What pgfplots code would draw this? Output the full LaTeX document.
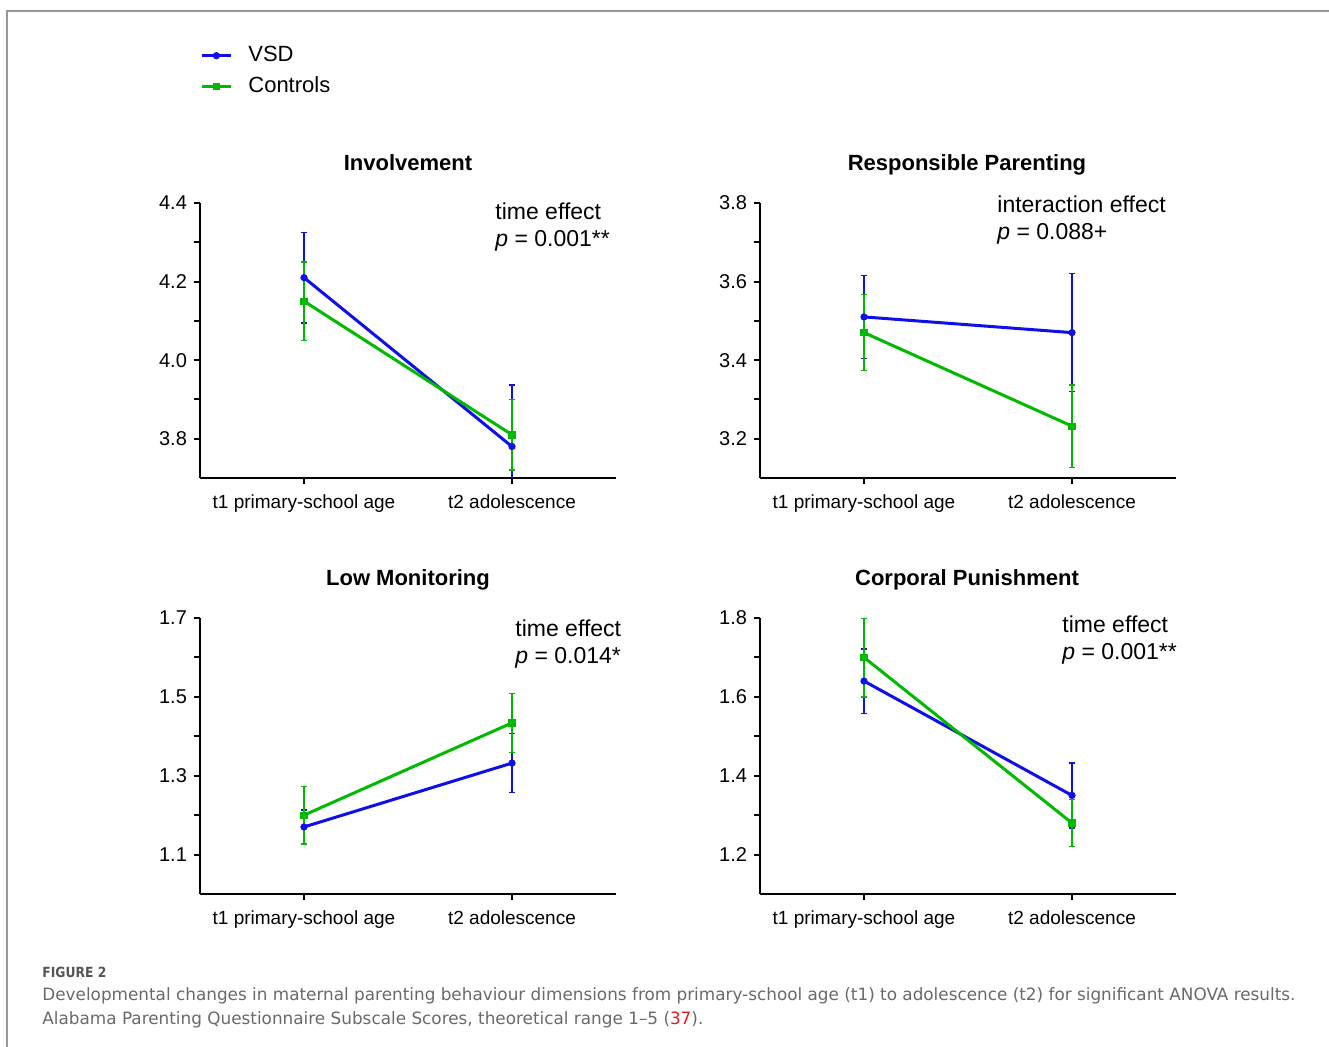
\documentclass[border=0pt]{standalone}
\usepackage{fontspec}
\setmainfont{Liberation Sans}
\newfontfamily\capfont{DejaVu Sans}
\usepackage{graphicx}
\usepackage{pgfplots}
\pgfplotsset{compat=1.18}

\definecolor{vsd}{RGB}{15,15,235}
\definecolor{ctl}{RGB}{0,185,0}
\definecolor{capgray}{RGB}{105,105,105}
\definecolor{figgray}{RGB}{85,85,85}
\definecolor{framegray}{RGB}{150,150,150}
\definecolor{refred}{RGB}{220,30,30}

\pgfplotsset{
  panel/.style={
    scale only axis, width=208pt, height=137.5pt,
    anchor=south west,
    xmin=-0.5, xmax=1.5,
    axis x line=bottom, axis y line=left,
    axis line style={-, line width=1.4pt},
    xtick={0,1}, xticklabels={t1 primary-school age, t2 adolescence},
    tick align=outside,
    major tick length=3pt, minor tick length=3pt,
    every tick/.style={line width=1pt, black},
    /pgf/number format/assume math mode=true,
    yticklabel style={font=\fontsize{10}{12}\selectfont,
      /pgf/number format/fixed, /pgf/number format/fixed zerofill,
      /pgf/number format/precision=1},
    xticklabel style={font=\fontsize{9.5}{11}\selectfont, yshift=-2pt},
  },
  vsdplot/.style={color=vsd, line width=1.5pt, mark=*, mark size=1.6pt,
    mark options={solid, line width=0.4pt},
    error bars/.cd, y dir=both, y explicit,
    error bar style={line width=0.75pt},
    error mark options={rotate=90, mark size=1.3pt, line width=0.75pt}},
  ctlplot/.style={color=ctl, line width=1.5pt, mark=square*, mark size=1.6pt,
    mark options={solid, line width=0.4pt},
    error bars/.cd, y dir=both, y explicit,
    error bar style={line width=0.75pt},
    error mark options={rotate=90, mark size=1.3pt, line width=0.75pt}},
}

\begin{document}
\begin{tikzpicture}[x=0.5pt, y=0.5pt]
\path[use as bounding box] (0,0) rectangle (1329,1047);
\draw[framegray, line width=0.6pt] (7,0) -- (7,1036) -- (1329,1036);

% Involvement
\begin{axis}[panel, at={(100pt,284.5pt)},
    ymin=3.7, ymax=4.4,
    ytick={3.8,4.0,4.2,4.4}, minor ytick={3.9,4.1,4.3},
    legend style={at={(0,1.585)}, anchor=north west, draw=none, fill=none,
      font=\fontsize{11}{13}\selectfont, row sep=2pt, column sep=6pt,
      inner sep=0pt},
    legend cell align=left,
    legend image code/.code={\draw[mark repeat=2, mark phase=2]
      plot coordinates {(0pt,0pt) (7.25pt,0pt) (14.5pt,0pt)};},
  ]
  \addplot[vsdplot] coordinates {(0,4.21) +- (0,0.115) (1,3.78) +- (0,0.157)};
  \addplot[ctlplot] coordinates {(0,4.15) +- (0,0.10) (1,3.81) +- (0,0.09)};
  \legend{VSD, Controls}
\end{axis}

% Responsible Parenting
\begin{axis}[panel, at={(380pt,284.5pt)},
    ymin=3.1, ymax=3.8,
    ytick={3.2,3.4,3.6,3.8}, minor ytick={3.3,3.5,3.7},
  ]
  \addplot[vsdplot] coordinates {(0,3.51) +- (0,0.106) (1,3.47) +- (0,0.15)};
  \addplot[ctlplot] coordinates {(0,3.47) +- (0,0.097) (1,3.232) +- (0,0.105)};
\end{axis}

% Low Monitoring
\begin{axis}[panel, at={(100pt,76.5pt)}, height=138pt,
    ymin=1.0, ymax=1.7,
    ytick={1.1,1.3,1.5,1.7}, minor ytick={1.2,1.4,1.6},
  ]
  \addplot[vsdplot] coordinates {(0,1.17) +- (0,0.043) (1,1.332) +- (0,0.075)};
  \addplot[ctlplot] coordinates {(0,1.20) +- (0,0.073) (1,1.434) +- (0,0.075)};
\end{axis}

% Corporal Punishment
\begin{axis}[panel, at={(380pt,76.5pt)}, height=138pt,
    ymin=1.1, ymax=1.8,
    ytick={1.2,1.4,1.6,1.8}, minor ytick={1.3,1.5,1.7},
  ]
  \addplot[vsdplot] coordinates {(0,1.64) +- (0,0.082) (1,1.35) +- (0,0.082)};
  \addplot[ctlplot] coordinates {(0,1.70) +- (0,0.10) (1,1.28) +- (0,0.06)};
\end{axis}

% panel titles
\begin{scope}[every node/.style={anchor=base, inner sep=0pt,
    font=\bfseries\fontsize{11}{13}\selectfont}]
  \node at (408,876) {Involvement};
  \node at (967,876) {Responsible Parenting};
  \node at (408,461) {Low Monitoring};
  \node at (967,461) {Corporal Punishment};
\end{scope}

% effect notes
\begin{scope}[every node/.style={anchor=base west, inner sep=0pt,
    font=\fontsize{11.5}{13}\selectfont}]
  \node at (495,827) {time effect};
  \node at (495,800) {\textit{p} = 0.001**};
  \node at (997,834) {interaction effect};
  \node at (997,807) {\textit{p} = 0.088+};
  \node at (515,410) {time effect};
  \node at (515,383) {\textit{p} = 0.014*};
  \node at (1062,414) {time effect};
  \node at (1062,387) {\textit{p} = 0.001**};
\end{scope}

% caption
\begin{scope}[every node/.style={anchor=base west, inner sep=0pt}]
  \node[text=figgray] at (42,69)
    {\resizebox{32pt}{\height}{\capfont\bfseries\fontsize{7}{8}\selectfont FIGURE 2}};
  \node[text=capgray] at (42,46)
    {\resizebox{626.5pt}{\height}{\capfont\fontsize{8.5}{10}\selectfont Developmental changes in maternal parenting behaviour dimensions from primary-school age (t1) to adolescence (t2) for significant ANOVA results.}};
  \node[text=capgray] at (42,22)
    {\resizebox{330.5pt}{\height}{\capfont\fontsize{8.5}{10}\selectfont Alabama Parenting Questionnaire Subscale Scores, theoretical range 1–5 (\textcolor{refred}{37}).}};
\end{scope}
\end{tikzpicture}
\end{document}
